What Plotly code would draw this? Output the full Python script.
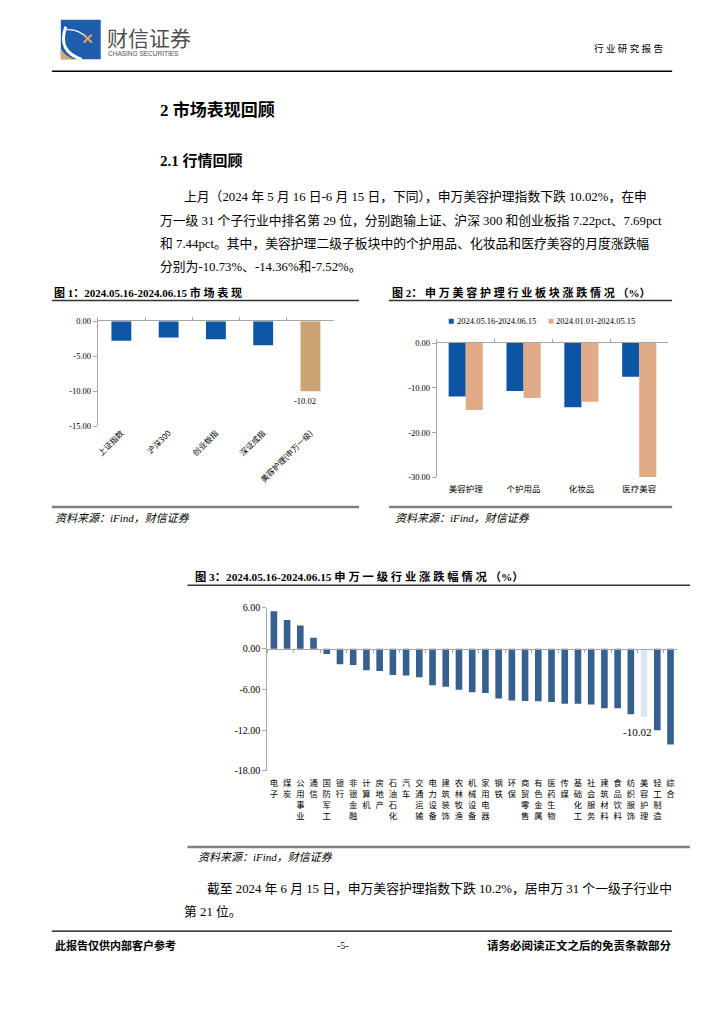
import plotly.graph_objects as go

W, H = 724, 1024


def px(x):
    return x / W


def py(y):
    return 1 - y / H


# ---------------- data ----------------
fig1_categories = ['上证指数', '沪深300', '创业板指', '深证成指', '美容护理(申万一级)']
fig1_values = [-2.80, -2.33, -2.58, -3.44, -10.02]
fig1_highlight = '美容护理(申万一级)'
fig1_yticks = [0, -5, -10, -15]

fig2_categories = ['美容护理', '个护用品', '化妆品', '医疗美容']
fig2_series = ['2024.05.16-2024.06.15', '2024.01.01-2024.05.15']
fig2_recent = [-11.93, -10.73, -14.36, -7.52]
fig2_ytd = [-14.95, -12.30, -13.10, -29.90]
fig2_yticks = [0, -10, -20, -30]

fig3_industries = ['电子', '煤炭', '公用事业', '通信', '国防军工', '银行', '非银金融', '计算机',
                   '房地产', '石油石化', '汽车', '交通运输', '电力设备', '建筑装饰', '农林牧渔',
                   '机械设备', '家用电器', '钢铁', '环保', '商贸零售', '有色金属', '医药生物',
                   '传媒', '基础化工', '社会服务', '建筑材料', '食品饮料', '纺织服饰', '美容护理',
                   '轻工制造', '综合']
fig3_values = [5.50, 4.20, 3.40, 1.60, -0.80, -2.30, -2.40, -3.20, -3.30, -3.90, -3.95, -4.20,
               -5.38, -5.62, -6.05, -6.43, -6.52, -7.33, -7.62, -7.71, -7.73, -7.86, -8.10,
               -8.12, -8.24, -8.76, -8.78, -9.67, -10.02, -12.00, -14.10]
fig3_highlight = '美容护理'
fig3_yticks = [6, 0, -6, -12, -18]

# ---------------- texts ----------------
logo_cn = '财信证券'
logo_en = 'CHASING SECURITIES'
header_right = '行业研究报告'
title_h1 = '2 市场表现回顾'
title_h2 = '2.1 行情回顾'
para1 = [
    '上月（2024 年 5 月 16 日-6 月 15 日，下同），申万美容护理指数下跌 10.02%，在申',
    '万一级 31 个子行业中排名第 29 位，分别跑输上证、沪深 300 和创业板指 7.22pct、7.69pct',
    '和 7.44pct。其中，美容护理二级子板块中的个护用品、化妆品和医疗美容的月度涨跌幅',
    '分别为-10.73%、-14.36%和-7.52%。',
]
para2 = [
    '截至 2024 年 6 月 15 日，申万美容护理指数下跌 10.2%，居申万 31 个一级子行业中',
    '第 21 位。',
]
cap1 = '图 1：2024.05.16-2024.06.15 市场表现'
cap2 = '图 2：申万美容护理行业板块涨跌情况（%）'
cap3 = '图 3：2024.05.16-2024.06.15 申万一级行业涨跌幅情况（%）'
source = '资料来源：iFind，财信证券'
footer_left = '此报告仅供内部客户参考'
footer_mid = '-5-'
footer_right = '请务必阅读正文之后的免责条款部分'

# ---------------- styles ----------------
SERIF = 'Liberation Serif, Noto Sans CJK SC'
SANS = 'Noto Sans CJK SC'
AX = '#A6A6A6'
BLUE1 = '#0D56A6'
TAN1 = '#C9A374'
BLUE2 = '#0C55A5'
ORANGE2 = '#E0AB86'
BAR3 = '#36608F'
BAR3_HL = '#DCE6F1'


def is_cjk(ch):
    return '\u3000' <= ch <= '\u9fff' or '\uff00' <= ch <= '\uffef'


def spaced(s):
    out = ''
    for i, ch in enumerate(s):
        out += ch
        if i + 1 < len(s) and is_cjk(ch) and is_cjk(s[i + 1]):
            out += ' '
    return out


def stack(s):
    return '<br>'.join(list(s))


def fmt(v):
    return f'{v:.2f}'


fig = go.Figure()

# chart 1
fig.add_trace(go.Bar(
    x=fig1_categories, y=fig1_values, xaxis='x', yaxis='y', width=0.42,
    marker=dict(color=[TAN1 if c == fig1_highlight else BLUE1 for c in fig1_categories], line_width=0),
    showlegend=False, hoverinfo='skip'))
fig.add_trace(go.Scatter(x=fig1_categories, y=fig1_values, xaxis='x2', yaxis='y', mode='none',
                         showlegend=False, hoverinfo='skip'))

# chart 2
fig2_colors = [BLUE2, ORANGE2]
fig.add_trace(go.Bar(x=fig2_categories, y=fig2_recent, xaxis='x3', yaxis='y2', width=0.295, offset=-0.295,
                     marker=dict(color=fig2_colors[0], line_width=0), name=fig2_series[0], showlegend=False,
                     hoverinfo='skip'))
fig.add_trace(go.Bar(x=fig2_categories, y=fig2_ytd, xaxis='x3', yaxis='y2', width=0.295, offset=0,
                     marker=dict(color=fig2_colors[1], line_width=0), name=fig2_series[1], showlegend=False,
                     hoverinfo='skip'))
fig.add_trace(go.Scatter(x=fig2_categories, y=fig2_recent, xaxis='x4', yaxis='y2', mode='none',
                         showlegend=False, hoverinfo='skip'))

# chart 3
fig.add_trace(go.Bar(
    x=fig3_industries, y=fig3_values, xaxis='x5', yaxis='y3', width=0.5,
    marker=dict(color=[BAR3_HL if c == fig3_highlight else BAR3 for c in fig3_industries], line_width=0),
    showlegend=False, hoverinfo='skip'))
fig.add_trace(go.Scatter(x=fig3_industries, y=fig3_values, xaxis='x6', yaxis='y3', mode='none',
                         showlegend=False, hoverinfo='skip'))

# ---------------- axes ----------------
c1_dom_x = [px(96), px(333)]
c1_dom_y = [py(425), py(319)]
c2_dom_x = [px(436), px(668)]
c2_dom_y = [py(477), py(341)]
c3_dom_x = [px(266), px(677)]
c3_dom_y = [py(774), py(609)]
c3_range = [-18, 6]
c3_zero = c3_dom_y[0] + (0 - c3_range[0]) / (c3_range[1] - c3_range[0]) * (c3_dom_y[1] - c3_dom_y[0])

line_axis = dict(showline=True, linecolor=AX, linewidth=1, ticks='outside', tickson='boundaries',
                 ticklen=3, tickcolor=AX, tickwidth=1, showticklabels=False, showgrid=False,
                 zeroline=False, type='category')
label_axis = dict(showline=False, ticks='', showgrid=False, zeroline=False, type='category')


def yax(dom, rng, ticks, anchor, size):
    return dict(domain=dom, range=rng, anchor=anchor, tickvals=ticks, ticktext=[fmt(t) for t in ticks],
                ticks='outside', ticklen=4, tickcolor=AX, showline=True, linecolor=AX, linewidth=1,
                showgrid=False, zeroline=False, tickfont=dict(family=SERIF, size=size, color='#000'))


fig.update_layout(
    width=W, height=H, margin=dict(l=0, r=0, t=0, b=0),
    paper_bgcolor='white', plot_bgcolor='rgba(0,0,0,0)',
    barmode='overlay', showlegend=False,
    xaxis=dict(domain=c1_dom_x, anchor='y', range=[-0.5, len(fig1_categories) - 0.5], tickangle=-45,
               tickfont=dict(family=SANS, size=8, color='#000'), **label_axis),
    xaxis2=dict(overlaying='x', anchor='y', side='top', range=[-0.5, len(fig1_categories) - 0.5],
                **line_axis),
    yaxis=yax(c1_dom_y, [-15, 0], fig1_yticks, 'x', 8.5),
    xaxis3=dict(domain=c2_dom_x, anchor='y2', range=[-0.5, len(fig2_categories) - 0.5],
                ticklabelstandoff=5,
                tickfont=dict(family=SANS, size=8.5, color='#000'), **label_axis),
    xaxis4=dict(overlaying='x3', anchor='y2', side='top', range=[-0.5, len(fig2_categories) - 0.5],
                **line_axis),
    yaxis2=yax(c2_dom_y, [-30, 0], fig2_yticks, 'x3', 8.5),
    xaxis5=dict(domain=c3_dom_x, anchor='y3', range=[-0.5, len(fig3_industries) - 0.5],
                tickvals=fig3_industries, ticktext=[stack(s) for s in fig3_industries],
                ticklabelstandoff=6,
                tickfont=dict(family=SANS, size=8.3, color='#000'), **label_axis),
    xaxis6=dict(overlaying='x5', anchor='free', position=c3_zero, side='bottom',
                range=[-0.5, len(fig3_industries) - 0.5], **line_axis),
    yaxis3=yax(c3_dom_y, c3_range, fig3_yticks, 'x5', 10),
)

# ---------------- page shapes ----------------
shapes = []


def hline(y, x0, x1, color, width):
    shapes.append(dict(type='line', xref='paper', yref='paper', x0=px(x0), x1=px(x1), y0=py(y), y1=py(y),
                       line=dict(color=color, width=width)))


hline(66, 50, 672, '#000', 1.3)
hline(298, 50, 358, '#333', 1.5)
hline(298, 388, 672, '#333', 1.5)
hline(507, 50, 358, '#7F7F7F', 2.5)
hline(507, 388, 672, '#7F7F7F', 2.5)
hline(586, 186, 690, '#333', 1.5)
hline(851, 186, 690, '#7F7F7F', 2.5)
hline(936, 50, 672, '#000', 1.3)


def P(x, y):
    return f'{px(x)},{py(y)}'


# logo
shapes.append(dict(type='rect', xref='paper', yref='paper', x0=px(59), x1=px(99), y0=py(54), y1=py(14),
                   fillcolor='#1F5DAA', line_width=0))
shapes.append(dict(type='path', xref='paper', yref='paper',
                   path=f'M {P(59,43)} L {P(59,54)} L {P(73,54)} Q {P(63,51)} {P(59,43)} Z',
                   fillcolor='#D9A57B', line_width=0))
shapes.append(dict(type='path', xref='paper', yref='paper',
                   path=f'M {P(64,21)} Q {P(55,46)} {P(80,54)}',
                   line=dict(color='white', width=3)))
shapes.append(dict(type='path', xref='paper', yref='paper',
                   path=f'M {P(65,24)} Q {P(76,23)} {P(85,32)}',
                   line=dict(color='white', width=1.2)))
shapes.append(dict(type='line', xref='paper', yref='paper', x0=px(82), y0=py(29), x1=px(90), y1=py(37),
                   line=dict(color='#F2A65A', width=2)))
shapes.append(dict(type='line', xref='paper', yref='paper', x0=px(90), y0=py(29), x1=px(82), y1=py(37),
                   line=dict(color='#F2A65A', width=2)))

# chart 2 legend (key squares)
legend_x = [448, 548]
legend_y = 319
for lx, col in zip(legend_x, fig2_colors):
    shapes.append(dict(type='rect', xref='paper', yref='paper', x0=px(lx), x1=px(lx + 5),
                       y0=py(legend_y + 2.5), y1=py(legend_y - 2.5), fillcolor=col, line_width=0))

fig.update_layout(shapes=shapes)

# ---------------- annotations ----------------
ann = []


def text(x, y, s, size, family=SERIF, xanchor='left', color='#000', yanchor='middle'):
    ann.append(dict(xref='paper', yref='paper', x=px(x), y=py(y), text=s, showarrow=False,
                    xanchor=xanchor, yanchor=yanchor, font=dict(family=family, size=size, color=color),
                    borderpad=0))


text(104, 31, logo_cn, 21, family=SANS, color='#505050')
text(105, 48, logo_en, 6.5, family='Liberation Sans', color='#505050')
text(664, 43, spaced(header_right), 9.5, xanchor='right')
text(157, 105, f'<b>{title_h1}</b>', 17)
text(157, 156, f'<b>{title_h2}</b>', 15)
for i, line in enumerate(para1):
    text(181 if i == 0 else 157, 193 + i * 23.7, line, 12.8)
for i, line in enumerate(para2):
    text(205 if i == 0 else 181, 893 + i * 24, line, 12.8)
text(51, 290, f'<b>{spaced(cap1)}</b>', 11)
text(390, 290, f'<b>{spaced(cap2)}</b>', 11)
text(193, 577, f'<b>{spaced(cap3)}</b>', 11.3)
text(52, 518, f'<i>{source}</i>', 11)
text(393, 518, f'<i>{source}</i>', 11)
text(196, 861, f'<i>{source}</i>', 11)
text(52, 951, f'<b>{footer_left}</b>', 11)
text(342, 951, footer_mid, 10, xanchor='center')
text(672, 951, f'<b>{footer_right}</b>', 11.5, xanchor='right')
for lx, nm in zip(legend_x, fig2_series):
    text(lx + 7, legend_y, nm, 8.5)

# data labels
i1 = fig1_categories.index(fig1_highlight)
ann.append(dict(xref='x', yref='y', x=fig1_categories[i1], y=fig1_values[i1], text=fmt(fig1_values[i1]),
                showarrow=False, yanchor='top', xanchor='center', yshift=-3, xshift=-5,
                font=dict(family=SERIF, size=8.5, color='#000')))
i3 = fig3_industries.index(fig3_highlight)
ann.append(dict(xref='x5', yref='y3', x=fig3_industries[i3], y=fig3_values[i3], text=fmt(fig3_values[i3]),
                showarrow=False, yanchor='top', xanchor='center', yshift=-7, xshift=-7,
                font=dict(family=SERIF, size=11, color='#000')))

fig.update_layout(annotations=ann)

fig.write_html('out.html', config={'displayModeBar': False},
               post_script="document.body.style.margin='0';document.body.style.overflow='hidden';")
